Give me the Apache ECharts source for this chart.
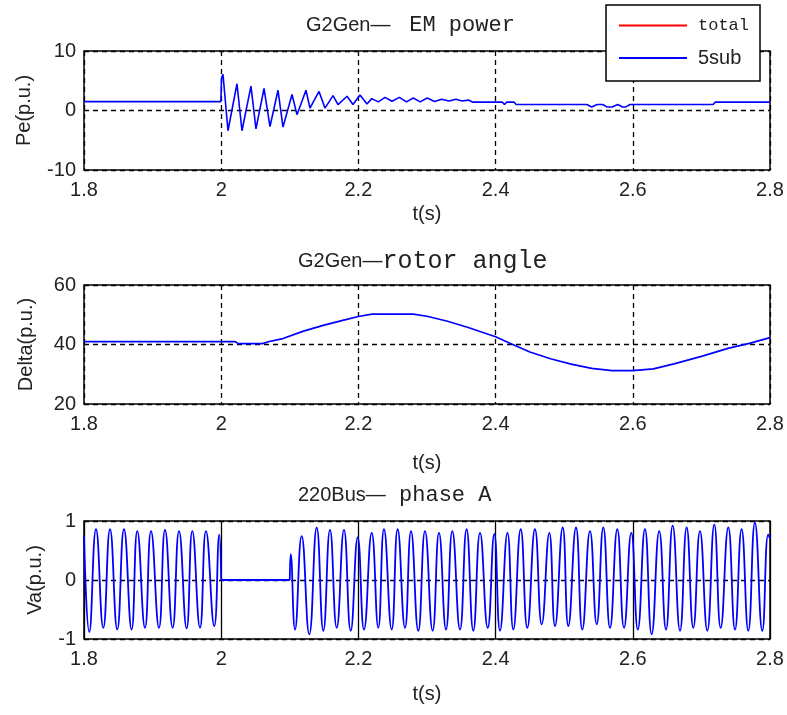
<!DOCTYPE html>
<html><head><meta charset="utf-8">
<script src="https://cdn.jsdelivr.net/npm/echarts@6/dist/echarts.min.js"></script>
<style>html,body{margin:0;padding:0;background:#fff}#c{width:787px;height:715px}</style>
</head><body><div id="c"></div><script>
// ---- Data ----
const xTicks = [1.8, 2, 2.2, 2.4, 2.6, 2.8];

// Pe (p.u.) - electromagnetic power
const peT = [1.8, 1.9995, 2.0005, 2.0026, 2.0099, 2.0230, 2.0303, 2.0434, 2.0507, 2.0624, 2.0711, 2.0828, 2.0901, 2.1032, 2.1105, 2.1236, 2.1294, 2.1426, 2.1513, 2.1630, 2.1703, 2.1834, 2.1921, 2.2023, 2.2125, 2.2194, 2.2290, 2.2388, 2.2490, 2.2597, 2.2700, 2.2800, 2.2900, 2.3004, 2.3110, 2.3214, 2.3320, 2.3423, 2.3510, 2.3603, 2.3670, 2.4100, 2.4130, 2.4160, 2.4270, 2.4300, 2.5330, 2.5400, 2.5480, 2.5560, 2.5620, 2.5700, 2.5780, 2.5850, 2.5900, 2.5960, 2.7170, 2.7200, 2.8];
const peV = [1.5, 1.5, 5.4, 6.1, -3.4, 4.5, -3.4, 4.1, -3.1, 3.7, -2.7, 3.4, -2.8, 2.7, -0.7, 3.4, 0.4, 3.2, 0.4, 2.5, 1.0, 2.4, 1.0, 2.6, 1.1, 2.0, 1.45, 2.2, 1.55, 2.2, 1.45, 2.1, 1.45, 2.1, 1.5, 1.9, 1.6, 1.9, 1.6, 1.75, 1.4, 1.4, 1.0, 1.4, 1.4, 1.0, 1.0, 0.6, 1.0, 1.0, 0.6, 0.6, 1.0, 0.6, 0.6, 1.0, 1.0, 1.4, 1.4];

// Delta - rotor angle
const dT = [1.8, 2.02, 2.025, 2.06, 2.07, 2.09, 2.12, 2.15, 2.18, 2.2, 2.22, 2.28, 2.3, 2.33, 2.36, 2.4, 2.42, 2.45, 2.48, 2.51, 2.54, 2.57, 2.6, 2.63, 2.66, 2.7, 2.74, 2.77, 2.8];
const dV = [41, 41, 40.3, 40.3, 41, 42, 44.5, 46.5, 48.3, 49.4, 50.2, 50.2, 49.5, 47.8, 45.7, 42.6, 40.5, 37.5, 35.2, 33.4, 32, 31.2, 31.2, 31.8, 33.5, 36, 38.8, 40.4, 42.3];

// Va - phase A voltage: extremes before the fault, fault interval, extremes after clearing
const vaPreT = [1.8, 1.8077, 1.8175, 1.8281, 1.8379, 1.8485, 1.8583, 1.8694, 1.8777, 1.8889, 1.8977, 1.9093, 1.9181, 1.9292, 1.9385, 1.9496, 1.9579, 1.9691, 1.9778, 1.9899, 1.9972, 2.0];
const vaPreV = [0.75, -0.88, 0.86, -0.81, 0.86, -0.84, 0.86, -0.84, 0.83, -0.81, 0.83, -0.81, 0.85, -0.81, 0.83, -0.82, 0.83, -0.81, 0.83, -0.78, 0.77, 0];
const vaFaultT = [2.0, 2.1];
const vaFaultV = [0, 0];
const vaPostT = [2.1, 2.1013, 2.1076, 2.1173, 2.1284, 2.1392, 2.1489, 2.1586, 2.1684, 2.1790, 2.1888, 2.1990, 2.2082, 2.2194, 2.2290, 2.2373, 2.2485, 2.2572, 2.2679, 2.2767, 2.2873, 2.2971, 2.3082, 2.3175, 2.3277, 2.3369, 2.3481, 2.3577, 2.3675, 2.3773, 2.3885, 2.3981, 2.4064, 2.4173, 2.4258, 2.4366, 2.4462, 2.4574, 2.4672, 2.4783, 2.4866, 2.4978, 2.5060, 2.5172, 2.5264, 2.5376, 2.5474, 2.5570, 2.5668, 2.5774, 2.5872, 2.5978, 2.6073, 2.6177, 2.6275, 2.6385, 2.6484, 2.6581, 2.6688, 2.6785, 2.6882, 2.6979, 2.7086, 2.7188, 2.7281, 2.7392, 2.7490, 2.7586, 2.7684, 2.7780, 2.7888, 2.7974, 2.8];
const vaPostV = [0, 0.44, -0.84, 0.745, -0.92, 0.886, -0.86, 0.85, -0.81, 0.85, -0.86, 0.72, -0.84, 0.80, -0.81, 0.86, -0.84, 0.86, -0.81, 0.83, -0.86, 0.83, -0.86, 0.80, -0.84, 0.83, -0.84, 0.86, -0.86, 0.80, -0.81, 0.78, -0.86, 0.80, -0.84, 0.86, -0.81, 0.86, -0.75, 0.80, -0.78, 0.89, -0.78, 0.89, -0.84, 0.83, -0.75, 0.89, -0.81, 0.86, -0.81, 0.80, -0.84, 0.86, -0.92, 0.83, -0.84, 0.92, -0.86, 0.89, -0.81, 0.83, -0.86, 0.94, -0.81, 0.89, -0.84, 0.86, -0.86, 0.97, -0.86, 0.77, 0.7];

const titles = [['G2Gen— ', ' EM power'], ['G2Gen—', 'rotor angle'], ['220Bus—', ' phase A']];
const yNames = ['Pe(p.u.)', 'Delta(p.u.)', 'Va(p.u.)'];
const xName = 't(s)';
const legendNames = ['total', '5sub'];

// ---- Build chart ----
const zip = (a, b) => a.map((v, i) => [v, b[i]]);
const SANS = 'Liberation Sans, Arial, sans-serif';
const MONO = 'Liberation Mono, DejaVu Sans Mono, monospace';

const grids = [
  {left: 84, right: 17, top: 51, height: 119},
  {left: 84, right: 17, top: 285, height: 119},
  {left: 84, right: 17, top: 521, height: 118}
].map(g => Object.assign(g, {show: true, borderColor: '#000', borderWidth: 1.5, backgroundColor: '#fff', containLabel: false}));

const dash = {color: '#000', width: 1.3, type: [5, 4]};
function xAx(i, gap, solid) {
  return {
    type: 'value', gridIndex: i, min: xTicks[0], max: xTicks[xTicks.length - 1], interval: 0.2,
    name: xName, nameLocation: 'middle', nameGap: gap,
    nameTextStyle: {fontFamily: SANS, fontSize: 20, color: '#222'},
    axisLine: {show: false}, axisTick: {show: false},
    axisLabel: {fontFamily: SANS, fontSize: 20, color: '#222', margin: 10},
    splitLine: {show: true, lineStyle: solid ? {color: '#000', width: 1.3, type: 'solid'} : dash}
  };
}
function yAx(i, min, max, interval, gap) {
  return {
    type: 'value', gridIndex: i, min: min, max: max, interval: interval,
    name: yNames[i], nameLocation: 'middle', nameGap: gap,
    nameTextStyle: {fontFamily: SANS, fontSize: 20, color: '#222'},
    axisLine: {show: false}, axisTick: {show: false},
    axisLabel: {fontFamily: SANS, fontSize: 20, color: '#222', margin: 8},
    splitLine: {show: true, lineStyle: dash}
  };
}

const titleTops = [14, 249, 484];
const titleLefts = [306, 298, 298];
const monoSizes = [22, 25, 22];
const titleOpts = titles.map((t, i) => ({
  text: '{a|' + t[0] + '}{b|' + t[1] + '}',
  left: titleLefts[i], top: titleTops[i], padding: 0,
  textStyle: {fontWeight: 'normal', rich: {
    a: {fontFamily: SANS, fontSize: 20, fontWeight: 'normal', color: '#222'},
    b: {fontFamily: MONO, fontSize: monoSizes[i], fontWeight: 'normal', color: '#222'}
  }}
}));

const blue = '#0000ff';
const lineS = (name, xi, data, w, smooth) => ({
  name: name, type: 'line', xAxisIndex: xi, yAxisIndex: xi, data: data,
  symbol: 'none', smooth: smooth || false, lineStyle: {color: blue, width: w}, itemStyle: {color: blue},
  animation: false, z: 3
});

const option = {
  animation: false,
  backgroundColor: '#fff',
  title: titleOpts,
  grid: grids,
  xAxis: [xAx(0, 34), xAx(1, 49), xAx(2, 45, true)],
  yAxis: [yAx(0, -10, 10, 10, 50), yAx(1, 20, 60, 20, 48), yAx(2, -1, 1, 1, 39)],
  legend: {
    data: legendNames, orient: 'vertical', left: 606, top: 5,
    padding: [12, 11, 13, 13], itemGap: 14, itemWidth: 68, itemHeight: 2, icon: 'rect',
    borderColor: '#000', borderWidth: 1.5, backgroundColor: '#fff',
    formatter: n => n === 'total' ? '{m|' + n + '}' : '{s|' + n + '}',
    textStyle: {rich: {
      m: {fontFamily: MONO, fontSize: 17, color: '#222', padding: [0, 0, 0, 6]},
      s: {fontFamily: SANS, fontSize: 20, color: '#222', padding: [0, 0, 0, 6]}
    }},
    selectedMode: false, z: 10
  },
  series: [
    {name: 'total', type: 'line', xAxisIndex: 0, yAxisIndex: 0, data: [], symbol: 'none',
     lineStyle: {color: '#ff0000', width: 1.2}, itemStyle: {color: '#ff0000'}},
    lineS('5sub', 0, zip(peT, peV), 1.6),
    lineS('5sub', 1, zip(dT, dV), 1.7),
    lineS('5sub', 2, zip(vaPreT, vaPreV), 1.8, true),
    lineS('5sub', 2, zip(vaFaultT, vaFaultV), 1.8),
    lineS('5sub', 2, zip(vaPostT, vaPostV), 1.8, true)
  ]
};
const chart = echarts.init(document.getElementById('c'), null, {renderer: 'canvas'});
chart.setOption(option);
</script></body></html>
